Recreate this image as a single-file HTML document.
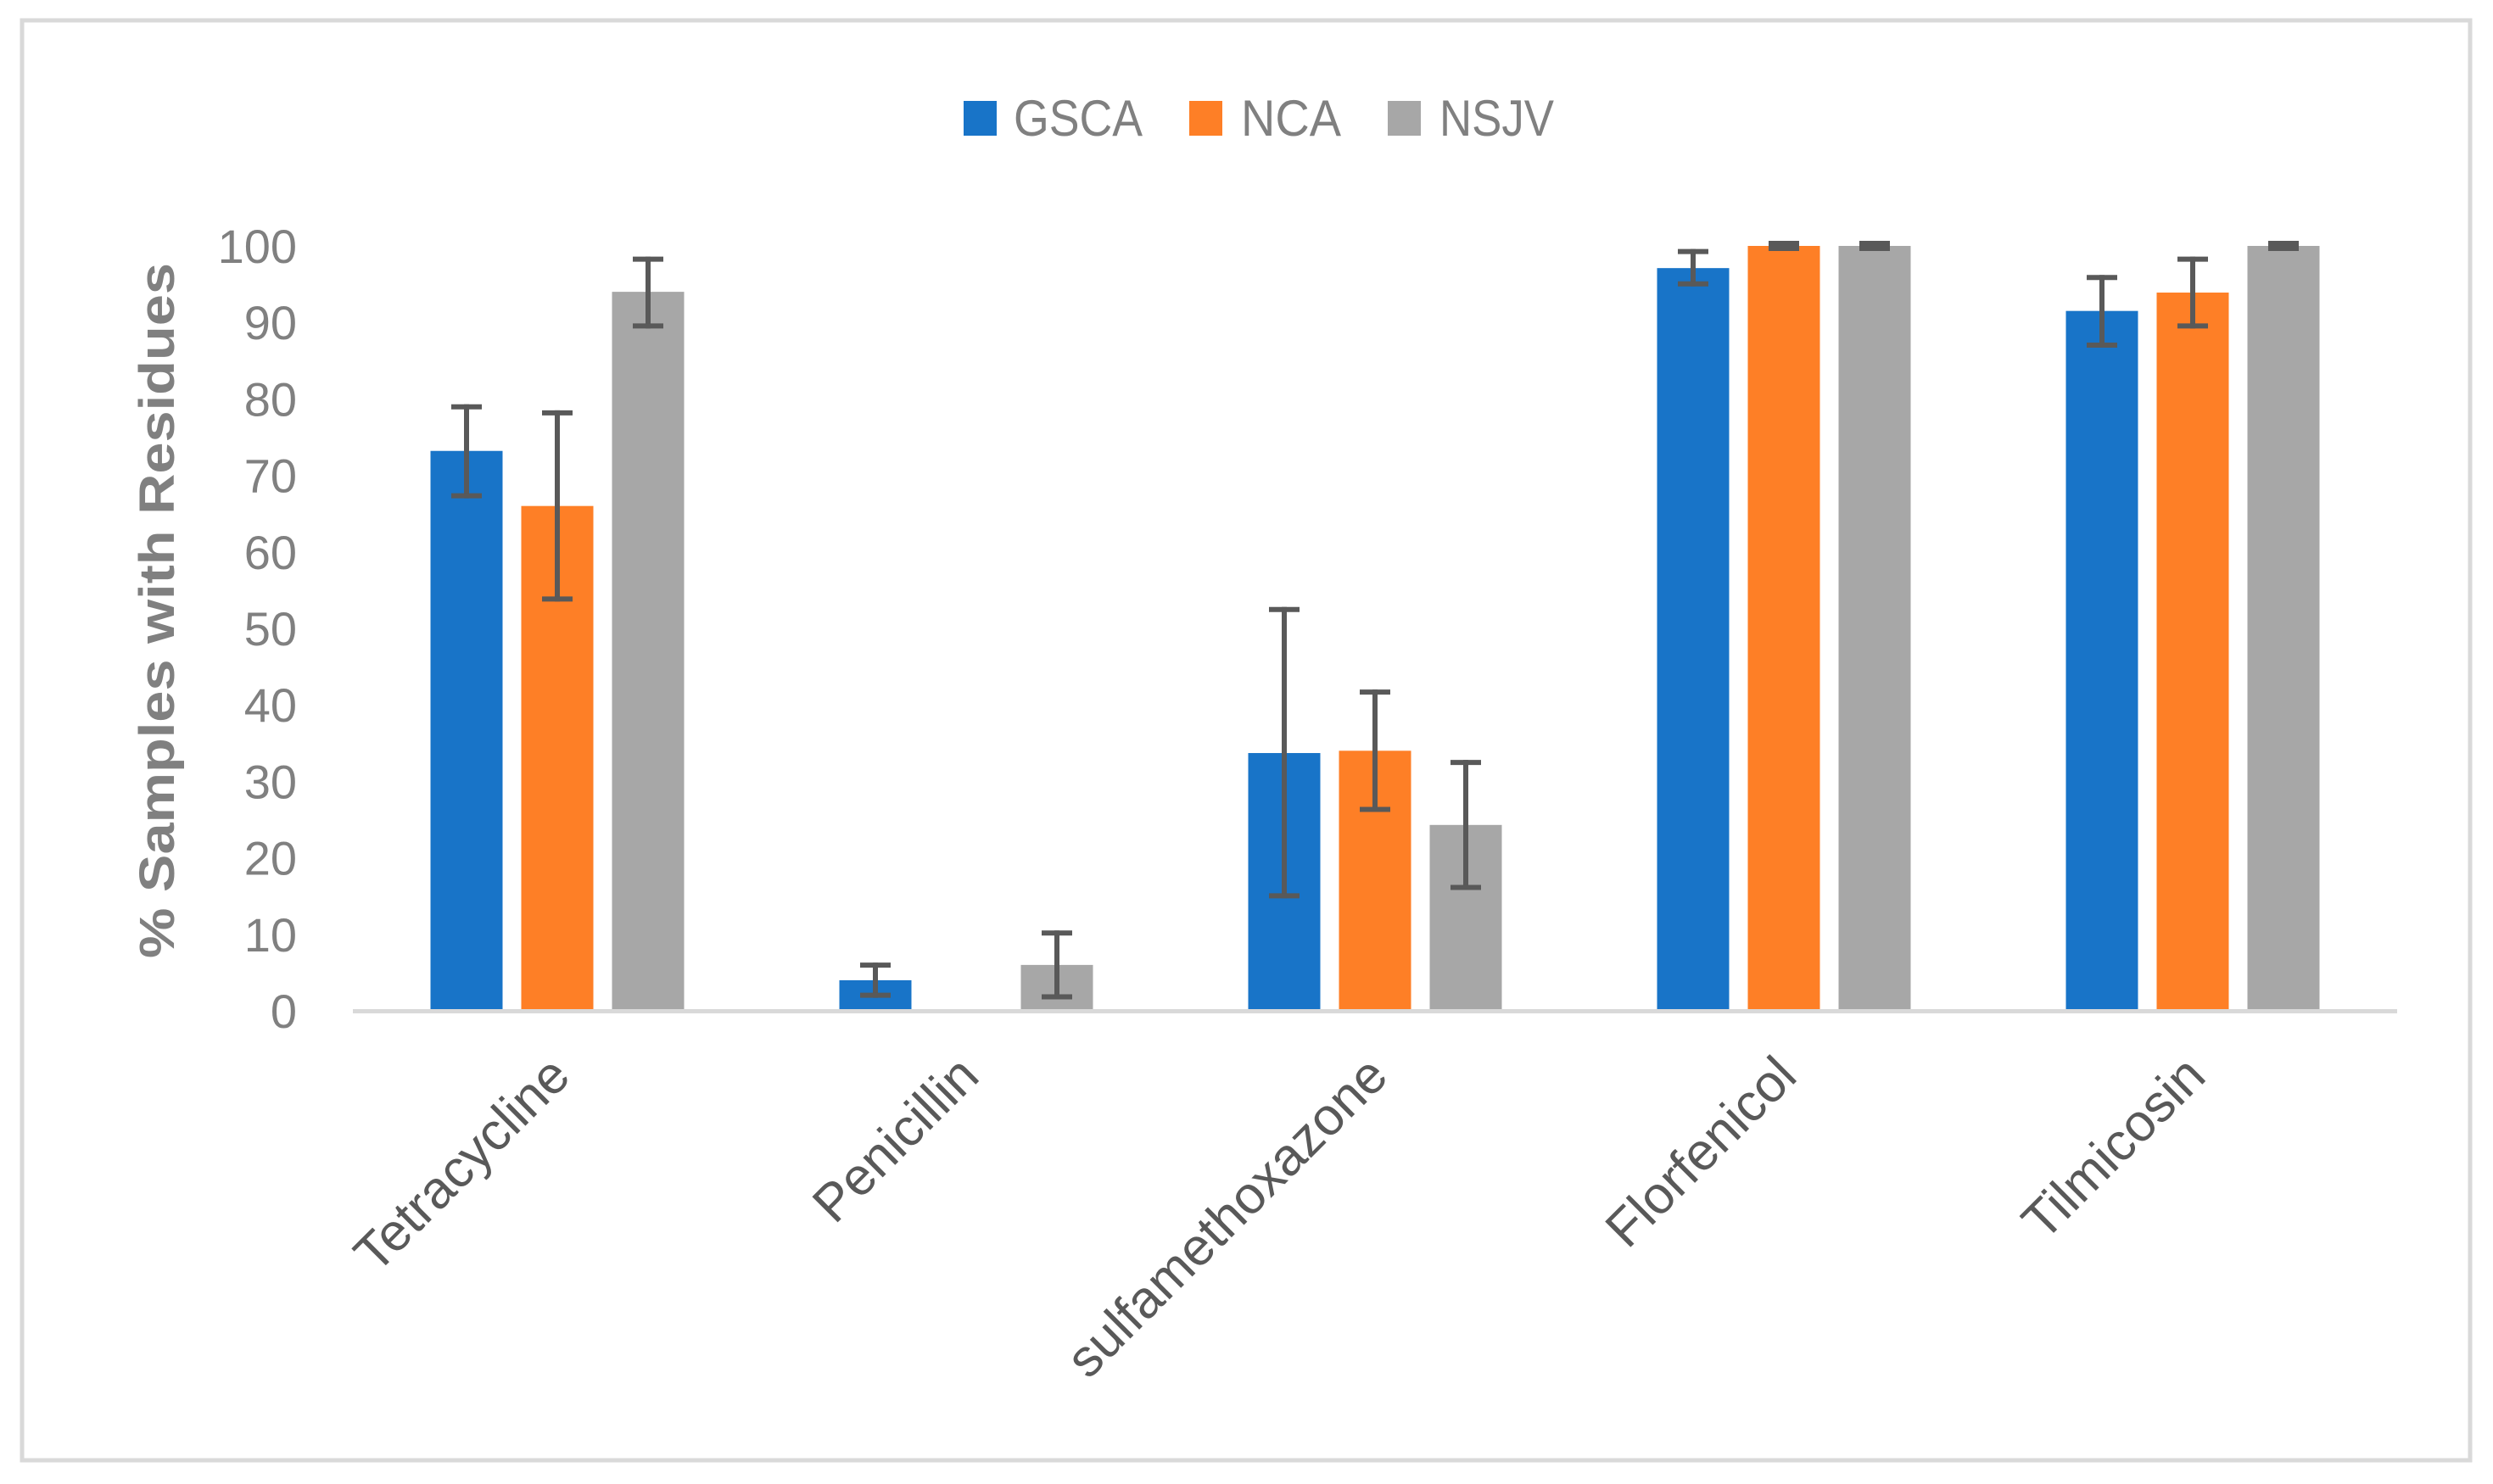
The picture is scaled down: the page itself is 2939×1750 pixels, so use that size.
<!DOCTYPE html>
<html><head><meta charset="utf-8"><style>
html,body{margin:0;padding:0;background:#fff;}
svg{display:block;}
text{font-family:"Liberation Sans",sans-serif;}
</style></head><body>
<svg id="chart" width="2939" height="1750" viewBox="0 0 2939 1750" xmlns="http://www.w3.org/2000/svg">
<rect x="26" y="24" width="2886" height="1698" fill="#fff" stroke="#d9d9d9" stroke-width="5"/>
<g id="legend">
  <g><rect x="1136" y="119" width="39" height="41" fill="#1874c8"/><text x="1195" y="160" font-size="60" fill="#808080" textLength="152" lengthAdjust="spacingAndGlyphs">GSCA</text></g>
  <g><rect x="1402" y="119" width="39" height="41" fill="#fe7f26"/><text x="1463" y="160" font-size="60" fill="#808080" textLength="118" lengthAdjust="spacingAndGlyphs">NCA</text></g>
  <g><rect x="1636" y="119" width="39" height="41" fill="#a7a7a7"/><text x="1697" y="160" font-size="60" fill="#808080" textLength="135" lengthAdjust="spacingAndGlyphs">NSJV</text></g>
</g>
<text transform="translate(205,720) rotate(-90)" text-anchor="middle" font-size="58" font-weight="bold" fill="#808080" textLength="820" lengthAdjust="spacingAndGlyphs">% Samples with Residues</text>
<g id="yticks"></g>
<g id="bars"></g>
<g id="errs"></g>
<rect x="416" y="1190" width="2410" height="5" fill="#d9d9d9"/>
<g id="xlabels"></g>
</svg>
<script>
const categories = ["Tetracycline","Penicillin","sulfamethoxazone","Florfenicol","Tilmicosin"];
const seriesNames = ["GSCA","NCA","NSJV"];
const gsca = [73.2, 4, 33.7, 97.1, 91.5];
const nca = [66, 0, 34, 100, 93.9];
const nsjv = [94, 6, 24.3, 100, 100];
const gscaLow = [67, 1.7, 14.7, 94.7, 86.7];
const gscaHigh = [79.3, 6.3, 52.8, 99.6, 96.2];
const ncaLow = [53.5, 0, 26, 100, 89.2];
const ncaHigh = [78.5, 0, 42, 100, 98.6];
const nsjvLow = [89.2, 1.5, 15.8, 100, 100];
const nsjvHigh = [98.6, 10.5, 32.8, 100, 100];
const yTicks = [0,10,20,30,40,50,60,70,80,90,100];

const NS="http://www.w3.org/2000/svg";
const colors=["#1874c8","#fe7f26","#a7a7a7"];
const plotL=416, plotR=2826, y0=1192, y100=290;
const yScale=v=>y0-(y0-y100)*v/100;
const groupW=(plotR-plotL)/categories.length;
const xCenter=i=>plotL+groupW*(i+0.5);
const barW=85, step=107;
function mk(tag,attrs,parent){const e=document.createElementNS(NS,tag);for(const k in attrs)e.setAttribute(k,attrs[k]);parent.appendChild(e);return e;}
const yt=document.getElementById('yticks');
yTicks.forEach(t=>{
  const e=mk('text',{x:350,y:yScale(t)+20,'text-anchor':'end','font-size':56,fill:'#808080'},yt);
  
  
  e.textContent=t;
});
const vals=[gsca,nca,nsjv], lows=[gscaLow,ncaLow,nsjvLow], highs=[gscaHigh,ncaHigh,nsjvHigh];
const bg=document.getElementById('bars'), eg=document.getElementById('errs');
categories.forEach((c,i)=>{
  for(let s=0;s<3;s++){
    const cx=xCenter(i)+(s-1)*step;
    const v=vals[s][i];
    if(v>0){
      const r=mk('rect',{x:cx-barW/2,y:yScale(v),width:barW,height:y0-yScale(v),fill:colors[s]},bg);
      
      
    }
    const lo=lows[s][i], hi=highs[s][i];
    if(v>0){
      const g=mk('g',{stroke:'#595959',fill:'none'},eg);
      
      
      mk('line',{x1:cx,x2:cx,y1:yScale(hi),y2:yScale(lo),'stroke-width':6},g);
      mk('line',{x1:cx-18,x2:cx+18,y1:yScale(hi)+3,y2:yScale(hi)+3,'stroke-width':6},g);
      mk('line',{x1:cx-18,x2:cx+18,y1:yScale(lo)-3,y2:yScale(lo)-3,'stroke-width':6},g);
    }
  }
  const xl=document.getElementById('xlabels');
  const t=mk('text',{transform:`translate(${xCenter(i)+18},1272) rotate(-45)`,'text-anchor':'end','font-size':62,fill:'#595959'},xl);
  
  
  t.textContent=c;
});
</script>
</body></html>
